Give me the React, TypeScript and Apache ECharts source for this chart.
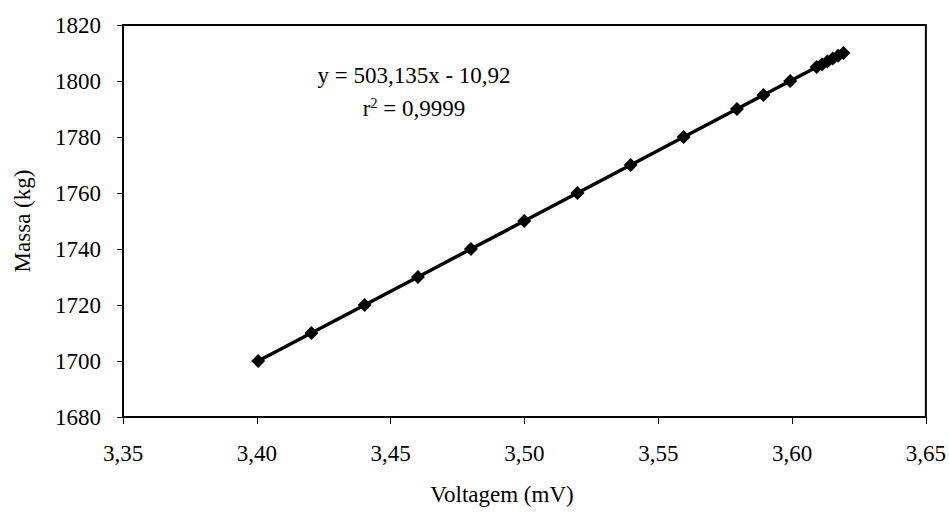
import React, { useEffect, useRef } from "react";
import * as echarts from "echarts";

const voltage = [3.4005, 3.4204, 3.4403, 3.4602, 3.4800, 3.4999, 3.5198, 3.5397, 3.5595, 3.5794, 3.5893, 3.5993, 3.6092, 3.6112, 3.6132, 3.6152, 3.6172, 3.6192];
const mass = [1700, 1710, 1720, 1730, 1740, 1750, 1760, 1770, 1780, 1790, 1795, 1800, 1805, 1806, 1807, 1808, 1809, 1810];
const equation = "y = 503,135x - 10,92";
const r2Label = " = 0,9999";

const FONT = "Liberation Serif, Times New Roman, serif";

export default function App() {
  const ref = useRef<HTMLDivElement>(null);
  useEffect(() => {
    document.body.style.margin = "0";
    const chart = echarts.init(ref.current!, null, { renderer: "svg" });
    const data = voltage.map((v, i) => [v, mass[i]]);
    chart.setOption({
      animation: false,
      backgroundColor: "#ffffff",
      grid: {
        left: 123,
        right: 23,
        top: 25,
        bottom: 96,
        show: true,
        borderColor: "#000",
        borderWidth: 2,
        backgroundColor: "transparent",
      },
      xAxis: {
        type: "value",
        min: 3.35,
        max: 3.65,
        interval: 0.05,
        axisLine: { show: true, lineStyle: { color: "#000", width: 2 } },
        axisTick: { show: true, length: 7, lineStyle: { color: "#000", width: 1 } },
        splitLine: { show: false },
        axisLabel: {
          color: "#000",
          fontFamily: FONT,
          fontSize: 23,
          margin: 25,
          formatter: (v: number) => v.toFixed(2).replace(".", ","),
        },
      },
      yAxis: {
        type: "value",
        min: 1680,
        max: 1820,
        interval: 20,
        axisLine: { show: true, lineStyle: { color: "#000", width: 2 } },
        axisTick: { show: true, length: 6, lineStyle: { color: "#000", width: 1 } },
        splitLine: { show: false },
        axisLabel: {
          color: "#000",
          fontFamily: FONT,
          fontSize: 23,
          margin: 22,
          formatter: (v: number) => String(v),
        },
      },
      series: [
        {
          type: "line",
          data,
          symbol: "diamond",
          symbolSize: 14,
          lineStyle: { color: "#000", width: 3.5 },
          itemStyle: { color: "#000" },
        },
      ],
      graphic: [
        {
          type: "text",
          x: 414,
          y: 75,
          style: {
            text: equation,
            fill: "#000",
            fontFamily: FONT,
            fontSize: 23,
            textAlign: "center",
            textVerticalAlign: "middle",
          },
        },
        {
          type: "text",
          x: 414,
          y: 108,
          style: {
            text: "{b|r}{s|2}{b|" + r2Label + "}",
            fill: "#000",
            textAlign: "center",
            textVerticalAlign: "middle",
            rich: {
              b: { fontFamily: FONT, fontSize: 23, fill: "#000" },
              s: { fontFamily: FONT, fontSize: 14, fill: "#000", verticalAlign: "top", padding: [0, 0, 10, 0] },
            },
          },
        },
        {
          type: "text",
          x: 22,
          y: 221,
          rotation: Math.PI / 2,
          style: {
            text: "Massa (kg)",
            fill: "#000",
            fontFamily: FONT,
            fontSize: 23,
            textAlign: "center",
            textVerticalAlign: "middle",
          },
        },
        {
          type: "text",
          x: 502,
          y: 494,
          style: {
            text: "Voltagem (mV)",
            fill: "#000",
            fontFamily: FONT,
            fontSize: 23,
            textAlign: "center",
            textVerticalAlign: "middle",
          },
        },
      ],
    });
    return () => chart.dispose();
  }, []);
  return <div ref={ref} style={{ width: 949, height: 513 }} />;
}
